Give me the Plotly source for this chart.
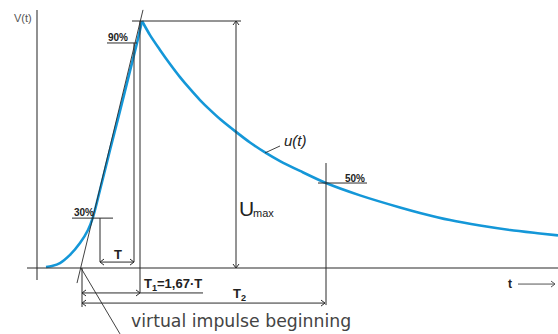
import plotly.graph_objects as go

# Impulse voltage waveform u(t): time in arbitrary units, voltage in % of Umax
t_vals = [0.9, 1.5, 2.3, 3.3, 4.3, 5.1, 5.6, 6.3, 7.3, 8.3, 9.3, 10.0, 10.3, 10.5,
          11.3, 12.3, 13.3, 14.3, 15.3, 16.3, 17.3, 18.3, 19.9, 21.3, 22.8, 24.3,
          26.3, 28.9, 32.3, 36.3, 38.3, 41.3, 44.3, 47.3, 50.3, 52.1]
v_vals = [0.4, 0.8, 2.0, 5.3, 10.1, 15.4, 20.6, 31.6, 47.8, 63.6, 79.8, 91.1, 96.4, 100.0,
          94.3, 88.3, 82.6, 77.3, 72.5, 68.0, 64.0, 60.3, 55.1, 50.8, 46.8, 43.3,
          39.3, 34.4, 29.4, 24.5, 22.3, 19.4, 17.2, 15.4, 14.0, 13.2]

# characteristic points of the waveform
t_origin, t_30, t_90, t_peak, t_50, t_umax = 4.5, 6.3, 9.7, 10.3, 28.9, 19.9
v_30, v_90, v_50, v_max = 20.2, 91.1, 34.4, 100.0

W, H = 558, 334
X_RANGE = [-3.7, 52.1]
Y_RANGE = [-26.72, 108.5]
PX_T = (X_RANGE[1] - X_RANGE[0]) / W     # time units per pixel
PX_V = (Y_RANGE[1] - Y_RANGE[0]) / H     # voltage units per pixel

LINE = "#2b2b2b"
AXIS = "#555555"
BLUE = "#1497d8"

fig = go.Figure()
shapes = []


def seg(x0, y0, x1, y1, color=LINE, width=1):
    shapes.append(dict(type="line", xref="x", yref="y", x0=x0, y0=y0, x1=x1, y1=y1,
                       line=dict(color=color, width=width)))


def head(x, y, direction, size=4, spread=3, color=LINE):
    """Open V-shaped arrowhead with its tip at (x, y)."""
    if direction in ("left", "right"):
        s = 1 if direction == "left" else -1
        seg(x, y, x + s * size * PX_T, y + spread * PX_V, color)
        seg(x, y, x + s * size * PX_T, y - spread * PX_V, color)
    else:
        s = -1 if direction == "up" else 1
        seg(x, y, x - spread * PX_T, y + s * size * PX_V, color)
        seg(x, y, x + spread * PX_T, y + s * size * PX_V, color)


# axes
seg(0, -4.9, 0, 104.5, AXIS, 1.3)
seg(-1.0, 0, 52.1, 0, LINE, 1.2)

# tangent through the 30 % and 90 % points
seg(4.0, -6.1, 10.6, 104.5, LINE, 0.9)

# Umax dimension
seg(9.5, v_max, 20.4, v_max)
seg(t_umax, 0, t_umax, v_max)
head(t_umax, v_max, "up")
head(t_umax, 0, "down")

# 90 % mark and construction lines
seg(7.0, v_90, 10.0, v_90)
seg(t_90, v_90, t_90, 2.4)
seg(t_peak, v_max, t_peak, -10.1)

# 30 % mark and T dimension
seg(3.5, v_30, 7.6, v_30)
seg(t_30, v_30, t_30, 2.4)
seg(t_30, 2.4, t_90, 2.4)
head(t_30, 2.4, "left")
head(t_90, 2.4, "right")

# T1 and T2 dimensions from the virtual origin
seg(t_origin, 0, t_origin, -15.8)
seg(t_origin, -10.1, 16.6, -10.1)
head(t_origin, -10.1, "left")
head(t_peak, -10.1, "right")
seg(t_origin, -14.2, t_50 - 0.1, -14.2)
head(t_origin, -14.2, "left")
head(t_50 - 0.1, -14.2, "right")

# 50 % mark
seg(t_50, 42.5, t_50, -15.0)
seg(28.1, v_50, 33.0, v_50)

# leader lines
seg(4.4, 0, 8.3, -26.7, LINE, 0.9)
seg(22.8, 46.6, 24.3, 49.4, LINE, 0.9)

# time axis arrow
seg(48.1, -6.5, 51.8, -6.5, AXIS, 1)
head(51.8, -6.5, "right", color=AXIS)

# front and tail drawn separately so the crest stays sharp
i_peak = v_vals.index(max(v_vals))
for sl in (slice(0, i_peak + 1), slice(i_peak, None)):
    fig.add_trace(go.Scatter(x=t_vals[sl], y=v_vals[sl], mode="lines",
                             line=dict(color=BLUE, width=2.6, shape="spline", smoothing=0.8),
                             hoverinfo="skip", showlegend=False))

FONT = "Liberation Sans"


def label(text, px, py, size, color="#222222", bold=False, italic=False, family=FONT):
    if bold:
        text = f"<b>{text}</b>"
    if italic:
        text = f"<i>{text}</i>"
    fig.add_annotation(text=text, xref="paper", yref="paper", x=px / W, y=1 - py / H,
                       xanchor="left", yanchor="middle", showarrow=False,
                       font=dict(size=size, color=color, family=family))


label("V(t)", 12, 18, 11, color="#555555")
label("90%", 106, 37, 10, bold=True)
label("30%", 72, 212, 10, bold=True)
label("T", 112, 254, 13, bold=True)
label("T<sub>1</sub>=1,67·T", 142, 284, 13, bold=True)
label("T<sub>2</sub>", 231, 294, 13, bold=True)
label("50%", 343, 178, 10, bold=True)
label("u(t)", 282, 141, 15, italic=True)
label("U", 237, 208, 21)
label("max", 251, 213, 11)
label("t", 506, 284, 12, bold=True)
label("virtual impulse beginning", 129, 321, 17.3, color="#444444", family="DejaVu Sans")

fig.update_layout(
    width=W, height=H, margin=dict(l=0, r=0, t=0, b=0),
    paper_bgcolor="white", plot_bgcolor="white",
    xaxis=dict(range=X_RANGE, visible=False, fixedrange=True),
    yaxis=dict(range=Y_RANGE, visible=False, fixedrange=True),
    shapes=shapes, showlegend=False,
)

fig.write_html("out.html")
